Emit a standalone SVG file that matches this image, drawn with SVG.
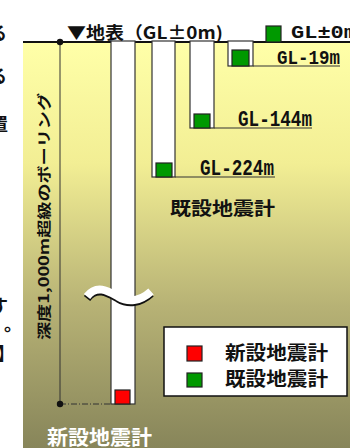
<svg xmlns="http://www.w3.org/2000/svg" width="350" height="448" viewBox="0 0 350 448">
<defs>
<linearGradient id="soil" x1="0" y1="42" x2="0" y2="448" gradientUnits="userSpaceOnUse">
<stop offset="0" stop-color="#FFFFA8"/>
<stop offset="0.3" stop-color="#F2EE94"/>
<stop offset="0.65" stop-color="#B7B275"/>
<stop offset="1" stop-color="#87855A"/>
</linearGradient>
<style>
.hole{fill:#FFFFFF;stroke:#333333;stroke-width:1.2}
.old{fill:#009900;stroke:#222222;stroke-width:1.2}
.new{fill:#FF0000;stroke:#222222;stroke-width:1.2}
.jp{font-family:"Noto Sans CJK JP","Noto Sans",sans-serif;font-weight:bold;fill:#111111}
.gl{font-family:"Liberation Mono","DejaVu Sans Mono","Noto Sans CJK JP",monospace;font-weight:bold;fill:#111111}
.uline{stroke:#333333;stroke-width:1.2;fill:none}
</style>
</defs>
<rect x="0" y="0" width="350" height="448" fill="#FFFFFF"/>
<rect x="23" y="42" width="327" height="406" fill="url(#soil)"/>

<g id="margin-text" class="jp" font-size="18">
<text x="-11" y="40">る</text>
<text x="-11" y="83">る</text>
<text x="-10" y="131">置</text>
<text x="-10" y="313">す</text>
<text x="4" y="331">。</text>
<text x="-3" y="360">】</text>
</g>

<g id="connectors">
<line x1="23" y1="42" x2="350" y2="42" stroke="#111111" stroke-width="2"/>
<line x1="60" y1="42" x2="60" y2="404" stroke="#333333" stroke-width="1"/>
<line x1="60" y1="404" x2="111" y2="404" stroke="#333333" stroke-width="1" stroke-dasharray="6,2,1,2"/>
<circle cx="60" cy="42" r="3.2" fill="#111111"/>
<circle cx="60" cy="404" r="3.2" fill="#111111"/>
</g>

<g id="borehole-new">
<rect class="hole" x="111" y="41" width="24" height="363"/>
<rect class="new" x="115" y="390" width="15" height="14"/>
</g>

<g id="break">
<path d="M 87 298.5 C 97 285.5, 109 293.5, 118 298.5 C 128 304.5, 140 303.5, 151 293.5" fill="none" stroke="#111111" stroke-width="8"/>
<path d="M 87 296.5 C 97 283.5, 109 291.5, 118 296.5 C 128 302.5, 140 301.5, 151 291.5" fill="none" stroke="#FFFFFF" stroke-width="8"/>
</g>

<g id="borehole-224">
<rect class="hole" x="152" y="41" width="23" height="136"/>
<rect class="old" x="156" y="163" width="16" height="14"/>
<line class="uline" x1="175" y1="177" x2="275" y2="177"/>
<text class="gl" x="200" y="175" font-size="22" textLength="74" lengthAdjust="spacingAndGlyphs">GL-224m</text>
</g>

<g id="borehole-144">
<rect class="hole" x="190" y="41" width="24" height="87"/>
<rect class="old" x="194" y="114" width="16" height="14"/>
<line class="uline" x1="214" y1="128" x2="312" y2="128"/>
<text class="gl" x="238" y="126" font-size="22" textLength="74" lengthAdjust="spacingAndGlyphs">GL-144m</text>
</g>

<g id="borehole-19">
<rect class="hole" x="228" y="41" width="25" height="25"/>
<rect class="old" x="232" y="50" width="17" height="16"/>
<line class="uline" x1="253" y1="66" x2="340" y2="66"/>
<text class="gl" x="277" y="64" font-size="21" textLength="63" lengthAdjust="spacingAndGlyphs">GL-19m</text>
</g>

<g id="surface">
<rect class="old" x="266" y="26" width="15" height="16"/>
<text class="gl" x="291" y="38" font-size="19" textLength="66" lengthAdjust="spacingAndGlyphs">GL±0m</text>
</g>

<g id="title">
<text class="jp" x="67" y="39" font-size="17" textLength="156" lengthAdjust="spacingAndGlyphs">▼地表（GL±0m)</text>
</g>

<g id="depth-label">
<text class="jp" transform="translate(49,340) rotate(-90)" x="0" y="0" font-size="14" textLength="247" lengthAdjust="spacingAndGlyphs">深度1,000m超級のボーリング</text>
</g>

<g id="existing-label">
<text class="jp" x="170" y="215" font-size="18" textLength="105" lengthAdjust="spacingAndGlyphs">既設地震計</text>
</g>

<g id="legend">
<rect x="164" y="327" width="183" height="69" fill="#FFFFFF" stroke="#111111" stroke-width="1.5"/>
<rect class="new" x="187" y="346" width="15" height="15"/>
<rect class="old" x="187" y="373" width="15" height="14"/>
<text class="jp" x="225" y="360" font-size="19" textLength="103" lengthAdjust="spacingAndGlyphs">新設地震計</text>
<text class="jp" x="225" y="386" font-size="19" textLength="103" lengthAdjust="spacingAndGlyphs">既設地震計</text>
</g>

<g id="new-label">
<text class="jp" x="47" y="445" font-size="20" style="fill:#FFFFFF" textLength="105" lengthAdjust="spacingAndGlyphs">新設地震計</text>
</g>
</svg>
